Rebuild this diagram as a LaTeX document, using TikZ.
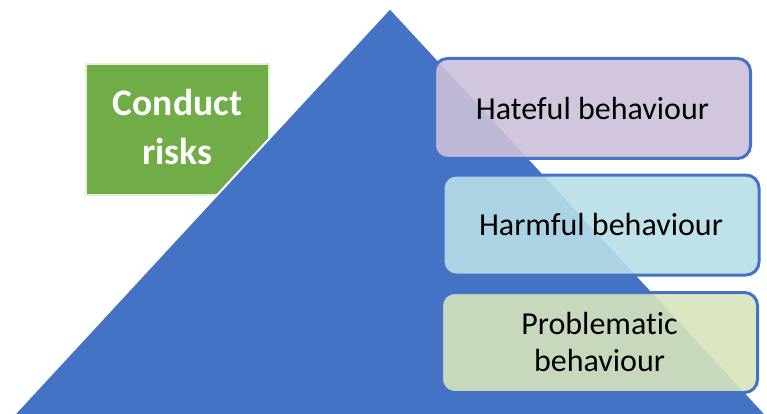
\documentclass[tikz,border=0pt]{standalone}
\usepackage{fontspec}
\setmainfont{Carlito}[Ligatures=NoCommon]
\usetikzlibrary{positioning}
\definecolor{pyrblue}{RGB}{68,114,196}
\definecolor{riskgreen}{RGB}{112,173,71}
\definecolor{edgegreen}{RGB}{226,239,217}
\definecolor{hatefill}{RGB}{204,192,218}
\definecolor{harmfill}{RGB}{183,222,232}
\definecolor{probfill}{RGB}{215,228,189}

\begin{document}
\begin{tikzpicture}[x=1pt, y=-1pt,
  riskbox/.style={
    rectangle, draw=edgegreen, line width=2pt, fill=riskgreen,
    minimum width=183pt, minimum height=131pt, inner sep=0pt,
    align=center, text=white,
    font=\fontsize{37.5}{49}\selectfont\bfseries
  },
  tier/.style={
    rectangle, draw=pyrblue, rounded corners=13pt, line width=3pt,
    fill opacity=0.9, text opacity=1, inner sep=0pt,
    minimum width=316pt, minimum height=100pt, align=center,
    font=\fontsize{32}{37}\selectfont
  },
  tierhate/.style={tier, fill=hatefill},
  tierharm/.style={tier, fill=harmfill},
  tierprob/.style={tier, fill=probfill},
  pyramid/.style={fill=pyrblue, draw=white, line width=2pt, line join=miter}
]
  \useasboundingbox (0,0) rectangle (767,414);

  \node[riskbox] (risk) at (177.5,129.5) {Conduct\\risks\rule[-5pt]{0pt}{0pt}};

  % the pyramid sits over the label box
  \coordinate (apex) at (390,8);
  \coordinate (baseL) at (9,420);
  \coordinate (baseR) at (771,420);
  \draw[pyramid] (apex) -- (baseR) -- (baseL) -- cycle;

  \node[tierhate] (hate) at (592.5,108.5) {Hateful behaviour};
  \node[tierharm] (harm) at (601,225)     {Harmful behaviour};
  \node[tierprob] (prob) at (599.5,342.5) {Problematic\\behaviour};
\end{tikzpicture}
\end{document}
